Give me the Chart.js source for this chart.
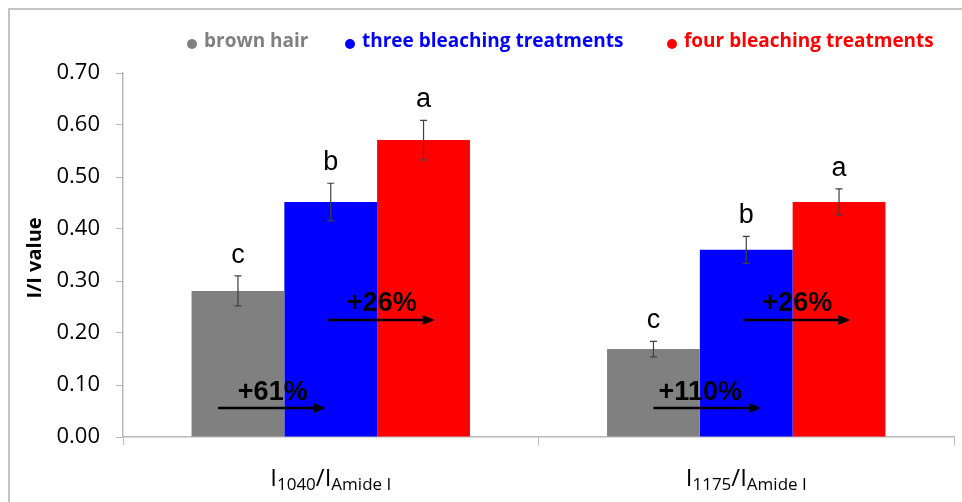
<!DOCTYPE html>
<html>
<head>
<meta charset="utf-8">
<script src="https://cdn.jsdelivr.net/npm/chart.js@4.4.1/dist/chart.umd.min.js"></script>
<style>
    html, body { margin: 0; padding: 0; background: #ffffff; }
    #wrap { width: 962px; height: 502px; position: relative; }
</style>
</head>
<body>
<div id="wrap"><canvas id="chart" width="962" height="502"></canvas></div>
<script>
// categories: the ratio numerator, drawn as I<sub>n</sub>/I<sub>Amide I</sub>
const categories = ["1040", "1175"];
const seriesNames = ["brown hair", "three bleaching treatments", "four bleaching treatments"];
const seriesColors = ["#808080", "#0000ff", "#ff0000"];

const brownHair = [0.281, 0.169];
const threeBleaching = [0.452, 0.360];
const fourBleaching = [0.571, 0.452];

const brownHairErr = [0.029, 0.015];
const threeBleachingErr = [0.036, 0.026];
const fourBleachingErr = [0.038, 0.025];

const brownHairLetters = ["c", "c"];
const threeBleachingLetters = ["b", "b"];
const fourBleachingLetters = ["a", "a"];

// percentage increase labels (brown -> three, three -> four)
const increaseBrownToThree = ["+61%", "+110%"];
const increaseThreeToFour = ["+26%", "+26%"];

const yTicks = [0, 0.1, 0.2, 0.3, 0.4, 0.5, 0.6, 0.7];

const FONT = "'Open Sans', 'DejaVu Sans', sans-serif";
const ARIAL = "'Liberation Sans', Arial, sans-serif";

const errors = [brownHairErr, threeBleachingErr, fourBleachingErr];
const letters = [brownHairLetters, threeBleachingLetters, fourBleachingLetters];

const framePlugin = {
    id: "frame",
    beforeDraw(chart) {
        const ctx = chart.ctx;
        ctx.save();
        ctx.strokeStyle = "#c4c4c4";
        ctx.lineWidth = 2;
        ctx.beginPath();
        ctx.moveTo(9, chart.height);
        ctx.lineTo(9, 9);
        ctx.lineTo(chart.width, 9);
        ctx.stroke();
        ctx.restore();
    },
};

const legendPlugin = {
    id: "customLegend",
    afterDraw(chart) {
        const ctx = chart.ctx;
        const starts = [188, 346, 668];
        ctx.save();
        ctx.font = "bold 19px " + FONT;
        ctx.textBaseline = "middle";
        seriesNames.forEach((name, i) => {
            ctx.fillStyle = seriesColors[i];
            ctx.beginPath();
            ctx.arc(starts[i] + 4, 44, 5, 0, Math.PI * 2);
            ctx.fill();
            ctx.fillText(name, starts[i] + 16, 42);
        });
        ctx.restore();
    },
};

const errorBarPlugin = {
    id: "errorBars",
    afterDatasetsDraw(chart) {
        const ctx = chart.ctx;
        const y = chart.scales.y;
        ctx.save();
        ctx.strokeStyle = "#404040";
        ctx.lineWidth = 1.2;
        chart.data.datasets.forEach((ds, di) => {
            const meta = chart.getDatasetMeta(di);
            meta.data.forEach((bar, i) => {
                const v = ds.data[i];
                const e = errors[di][i];
                const top = y.getPixelForValue(v + e);
                const bottom = y.getPixelForValue(v - e);
                ctx.beginPath();
                ctx.moveTo(bar.x, top);
                ctx.lineTo(bar.x, bottom);
                ctx.moveTo(bar.x - 3.5, top);
                ctx.lineTo(bar.x + 3.5, top);
                ctx.moveTo(bar.x - 3.5, bottom);
                ctx.lineTo(bar.x + 3.5, bottom);
                ctx.stroke();
                // significance letter
                ctx.fillStyle = "#000000";
                ctx.font = "27px " + ARIAL;
                ctx.textAlign = "center";
                ctx.textBaseline = "alphabetic";
                ctx.fillText(letters[di][i], bar.x, top - 13);
            });
        });
        ctx.restore();
    },
};

function drawArrow(ctx, x1, x2, y) {
    ctx.beginPath();
    ctx.moveTo(x1, y);
    ctx.lineTo(x2 - 10, y);
    ctx.stroke();
    ctx.beginPath();
    ctx.moveTo(x2, y);
    ctx.lineTo(x2 - 12, y - 5);
    ctx.lineTo(x2 - 12, y + 5);
    ctx.closePath();
    ctx.fill();
}

const increasePlugin = {
    id: "increases",
    afterDraw(chart) {
        const ctx = chart.ctx;
        const x = chart.scales.x;
        const y = chart.scales.y;
        ctx.save();
        ctx.strokeStyle = "#000000";
        ctx.fillStyle = "#000000";
        ctx.lineWidth = 2.5;
        ctx.font = "bold 27px " + ARIAL;
        ctx.textAlign = "center";
        ctx.textBaseline = "alphabetic";
        categories.forEach((c, i) => {
            const cx = x.getPixelForValue(i);
            const gray = chart.getDatasetMeta(0).data[i];
            const blue = chart.getDatasetMeta(1).data[i];
            const lowStart = i === 0 ? gray.x - 20 : gray.x;
            const lowEnd = i === 0 ? blue.x - 5 : blue.x + 15;
            drawArrow(ctx, lowStart, lowEnd, y.getPixelForValue(0.056));
            ctx.fillText(increaseBrownToThree[i], i === 0 ? cx - 58 : cx - 46, y.getPixelForValue(0.072));
            drawArrow(ctx, blue.x - 3, blue.x + 104, y.getPixelForValue(0.225));
            ctx.fillText(increaseThreeToFour[i], cx + 51, y.getPixelForValue(0.243));
        });
        ctx.restore();
    },
};

const axisLabelPlugin = {
    id: "axisLabels",
    afterDraw(chart) {
        const ctx = chart.ctx;
        const x = chart.scales.x;
        ctx.save();
        ctx.fillStyle = "#000000";
        ctx.textBaseline = "alphabetic";
        ctx.textAlign = "left";
        const big = "24px " + FONT;
        const small = "17px " + FONT;
        categories.forEach((c, i) => {
            const parts = [["I", big, 0], [c, small, 4], ["/", big, 0], ["I", big, 0], ["Amide I", small, 4]];
            let w = 0;
            parts.forEach(p => { ctx.font = p[1]; w += ctx.measureText(p[0]).width; });
            let px = x.getPixelForValue(i) - w / 2;
            parts.forEach(p => {
                ctx.font = p[1];
                ctx.fillText(p[0], px, 486 + p[2]);
                px += ctx.measureText(p[0]).width;
            });
        });
        // y axis title
        ctx.translate(35, 258);
        ctx.rotate(-Math.PI / 2);
        ctx.textAlign = "center";
        ctx.textBaseline = "middle";
        ctx.font = "bold 20px " + FONT;
        ctx.fillText("I/I value", 0, 0);
        ctx.restore();
    },
};

new Chart(document.getElementById("chart"), {
    type: "bar",
    data: {
        labels: categories,
        datasets: [
            { label: seriesNames[0], data: brownHair, backgroundColor: seriesColors[0] },
            { label: seriesNames[1], data: threeBleaching, backgroundColor: seriesColors[1] },
            { label: seriesNames[2], data: fourBleaching, backgroundColor: seriesColors[2] },
        ],
    },
    options: {
        responsive: false,
        animation: false,
        layout: { padding: { top: 73, right: 8, left: 0, bottom: 0 } },
        datasets: { bar: { categoryPercentage: 0.67, barPercentage: 1.0 } },
        plugins: { legend: { display: false }, tooltip: { enabled: false } },
        scales: {
            x: {
                afterFit: s => { s.height = 65; },
                grid: { drawOnChartArea: false, tickLength: 8, color: "#b8b8b8" },
                border: { color: "#b8b8b8", width: 1.5 },
                ticks: { display: false },
            },
            y: {
                min: 0,
                max: 0.7,
                afterFit: s => { s.width = 123; },
                afterBuildTicks: s => { s.ticks = yTicks.map(v => ({ value: v })); },
                grid: { drawOnChartArea: false, tickLength: 7, color: "#b8b8b8" },
                border: { color: "#b8b8b8", width: 1.5 },
                ticks: {
                    padding: 16,
                    color: "#000000",
                    font: { family: FONT, size: 22 },
                    callback: v => Number(v).toFixed(2),
                },
            },
        },
    },
    plugins: [framePlugin, legendPlugin, errorBarPlugin, increasePlugin, axisLabelPlugin],
});
</script>
</body>
</html>
